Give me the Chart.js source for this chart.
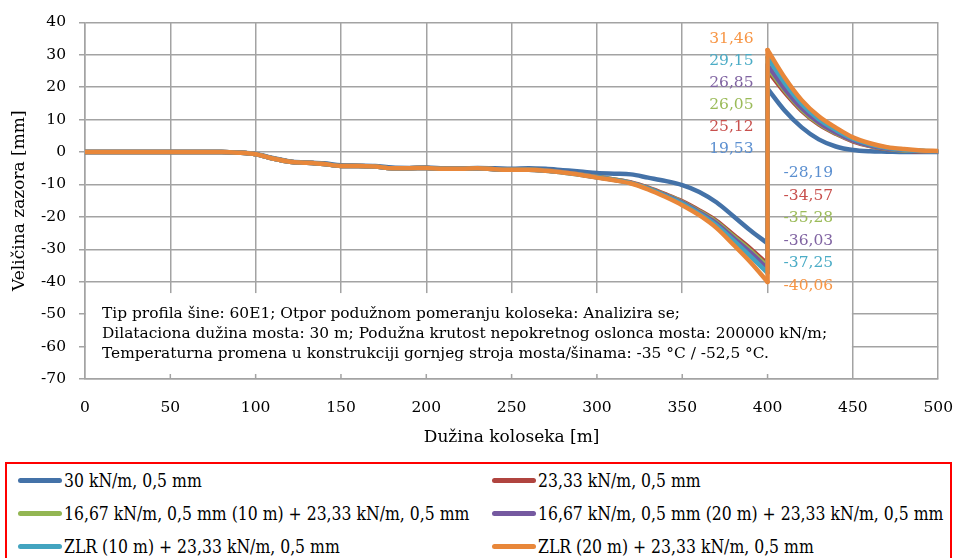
<!DOCTYPE html>
<html>
<head>
<meta charset="utf-8">
<title>Veličina zazora</title>
<script src="https://cdn.jsdelivr.net/npm/chart.js@4.4.1/dist/chart.umd.min.js"></script>
<style>
  body { margin: 0; background: #fff; width: 957px; height: 558px; overflow: hidden; position: relative; font-family: "DejaVu Serif", serif; }
  #wrap { position: absolute; left: 0; top: 0; width: 957px; height: 460px; }
  #legend { position: absolute; left: 5px; top: 462px; width: 943px; height: 110px; border: 2px solid #ff0000; }
  .item { position: absolute; height: 24px; display: flex; align-items: center; white-space: nowrap; color: #000; }
  .swatch { width: 44px; height: 5px; border-radius: 3px; margin-right: 2px; flex: none; }
  .label { display: inline-block; font-size: 18px; transform: scaleX(0.87); transform-origin: left center; }
</style>
</head>
<body>
<div id="wrap"><canvas id="gapChart" width="957" height="460"></canvas></div>
<div id="legend"></div>

<script>
// Data (x in m, y in mm) - the two points at 400 m make the vertical jump
const X_POS = [0, 10, 20, 30, 40, 50, 60, 70, 80, 90, 100, 110, 120, 130, 140, 150, 160, 170, 180, 190,
  200, 210, 220, 230, 240, 250, 260, 270, 280, 290, 300, 310, 320, 330, 340, 350, 360, 370, 380, 390, 400,
  400, 410, 420, 430, 440, 450, 460, 470, 480, 490, 500];
const JUMP_INDEX = 40; // X_POS[40] and X_POS[41] are both 400

const SERIES_NAMES = [
  "30 kN/m, 0,5 mm",
  "23,33 kN/m, 0,5 mm",
  "16,67 kN/m, 0,5 mm (10 m) + 23,33 kN/m, 0,5 mm",
  "16,67 kN/m, 0,5 mm (20 m) + 23,33 kN/m, 0,5 mm",
  "ZLR (10 m) + 23,33 kN/m, 0,5 mm",
  "ZLR (20 m) + 23,33 kN/m, 0,5 mm",
];

const GAP_30 = [0, 0, 0, 0, 0, 0, 0, 0, 0, -0.2, -0.6, -1.8, -2.9, -3.2, -3.5, -4.1, -4.2, -4.3, -4.8, -4.9,
  -4.8, -5.0, -5.1, -4.9, -5.0, -5.2, -5.0, -5.2, -5.6, -6.0, -6.5, -6.7, -6.9, -7.9, -8.9, -10.2, -12.3, -15.5, -19.8, -24.2, -28.19,
  19.53, 12.8, 7.6, 3.9, 1.7, 0.6, 0.2, 0.1, 0, 0, 0];

const GAP_2333 = [0, 0, 0, 0, 0, 0, 0, 0, 0, -0.2, -0.7, -2.0, -3.0, -3.3, -3.7, -4.3, -4.3, -4.5, -5.0, -5.0,
  -4.9, -5.2, -5.2, -5.0, -5.3, -5.5, -5.4, -5.7, -6.2, -6.9, -7.7, -8.5, -9.4, -11.0, -13.0, -15.2, -18.0, -21.2, -25.5, -29.8, -34.57,
  25.12, 18.4, 12.7, 8.5, 5.6, 3.3, 1.8, 0.9, 0.5, 0.2, 0.1];

const GAP_1667_10 = [0, 0, 0, 0, 0, 0, 0, 0, 0, -0.2, -0.7, -2.0, -3.0, -3.3, -3.7, -4.3, -4.3, -4.5, -5.0, -5.0,
  -4.9, -5.2, -5.2, -5.0, -5.3, -5.5, -5.4, -5.7, -6.2, -6.9, -7.7, -8.5, -9.5, -11.1, -13.2, -15.4, -18.3, -21.6, -26.0, -30.4, -35.28,
  26.05, 19.0, 13.1, 8.8, 5.8, 3.5, 1.9, 1.0, 0.5, 0.3, 0.1];

const GAP_1667_20 = [0, 0, 0, 0, 0, 0, 0, 0, 0, -0.2, -0.7, -2.0, -3.0, -3.3, -3.7, -4.3, -4.3, -4.5, -5.0, -5.0,
  -4.9, -5.2, -5.2, -5.0, -5.3, -5.5, -5.5, -5.7, -6.2, -6.9, -7.8, -8.6, -9.5, -11.2, -13.3, -15.6, -18.6, -22.0, -26.5, -31.0, -36.03,
  26.85, 19.5, 13.5, 9.1, 6.0, 3.6, 2.0, 1.1, 0.6, 0.3, 0.1];

const GAP_ZLR_10 = [0, 0, 0, 0, 0, 0, 0, 0, 0, -0.2, -0.7, -2.0, -3.0, -3.3, -3.7, -4.3, -4.3, -4.5, -5.0, -5.0,
  -4.9, -5.2, -5.2, -5.0, -5.3, -5.5, -5.5, -5.8, -6.3, -7.0, -7.8, -8.6, -9.6, -11.3, -13.5, -15.9, -19.0, -22.6, -27.3, -32.2, -37.25,
  29.15, 21.3, 14.8, 10.1, 6.8, 4.1, 2.4, 1.3, 0.7, 0.4, 0.2];

const GAP_ZLR_20 = [0, 0, 0, 0, 0, 0, 0, 0, 0, -0.2, -0.7, -2.0, -3.0, -3.3, -3.7, -4.3, -4.3, -4.5, -5.0, -5.0,
  -4.9, -5.2, -5.2, -5.0, -5.3, -5.5, -5.5, -5.8, -6.3, -7.0, -7.9, -8.7, -9.7, -11.5, -13.8, -16.4, -19.5, -23.4, -28.6, -34.0, -40.06,
  31.46, 23.0, 16.0, 11.0, 7.5, 4.5, 2.7, 1.5, 0.9, 0.5, 0.3];

const SERIES_VALUES = [GAP_30, GAP_2333, GAP_1667_10, GAP_1667_20, GAP_ZLR_10, GAP_ZLR_20];

// Values written next to the jump at 400 m
const MAX_LABELS = ["19,53", "25,12", "26,05", "26,85", "29,15", "31,46"];
const MIN_LABELS = ["-28,19", "-34,57", "-35,28", "-36,03", "-37,25", "-40,06"];

const NOTE_LINES = [
  "Tip profila šine: 60E1; Otpor podužnom pomeranju koloseka: Analizira se;",
  "Dilataciona dužina mosta: 30 m; Podužna krutost nepokretnog oslonca mosta: 200000 kN/m;",
  "Temperaturna promena u konstrukciji gornjeg stroja mosta/šinama: -35 °C / -52,5 °C.",
];

const LINE_COLORS = ["#4472a8", "#b0443f", "#93b653", "#7559a0", "#43a4c0", "#e8873a"];
const LABEL_COLORS = ["#5b8fd0", "#c8504d", "#9bbb59", "#8064a2", "#4bacc6", "#f79646"];
const GRID_COLOR = "#a3a3a3";
const FONT = "'DejaVu Serif', serif";
const NOTE_BOX_TOP = -43.5;   // mm, top edge of the white note box
const NOTE_BOX_RIGHT = 450;   // m

const notePlugin = {
  id: "notes",
  beforeDatasetsDraw(chart) {
    const { ctx, chartArea, scales } = chart;
    const top = scales.y.getPixelForValue(NOTE_BOX_TOP);
    const right = scales.x.getPixelForValue(NOTE_BOX_RIGHT);
    ctx.save();
    ctx.fillStyle = "#fff";
    ctx.fillRect(chartArea.left + 1, top, right - chartArea.left - 2, chartArea.bottom - top - 1);
    // short inside tick marks on the x axis under the box
    ctx.strokeStyle = GRID_COLOR;
    ctx.lineWidth = 1.5;
    for (let v = 50; v < NOTE_BOX_RIGHT; v += 50) {
      const px = scales.x.getPixelForValue(v);
      ctx.beginPath();
      ctx.moveTo(px, chartArea.bottom);
      ctx.lineTo(px, chartArea.bottom - 5);
      ctx.stroke();
    }
    ctx.restore();
  },
  afterDatasetsDraw(chart) {
    const { ctx, chartArea, scales } = chart;
    const top = scales.y.getPixelForValue(NOTE_BOX_TOP);
    ctx.save();
    ctx.font = "15.4px " + FONT;
    ctx.fillStyle = "#000";
    ctx.textAlign = "left";
    ctx.textBaseline = "middle";
    NOTE_LINES.forEach((line, i) => {
      ctx.fillText(line, chartArea.left + 17, top + 21 + i * 20);
    });

    // stacked value labels beside the jump
    const x400 = scales.x.getPixelForValue(400);
    ctx.font = "15.5px " + FONT;
    ctx.textAlign = "right";
    const maxTop = scales.y.getPixelForValue(31.46) - 11;
    for (let i = 0; i < 6; i++) {
      const s = 5 - i;
      ctx.fillStyle = LABEL_COLORS[s];
      ctx.fillText(MAX_LABELS[s], x400 - 14, maxTop + i * 22);
    }
    ctx.textAlign = "left";
    const minBottom = scales.y.getPixelForValue(-40.06) + 4;
    for (let i = 0; i < 6; i++) {
      ctx.fillStyle = LABEL_COLORS[i];
      ctx.fillText(MIN_LABELS[i], x400 + 16, minBottom - (5 - i) * 22.6);
    }
    ctx.restore();
  },
};

function buildLegend() {
  const legend = document.getElementById("legend");
  const rows = [4, 37, 70];
  const cols = [11, 485];
  SERIES_NAMES.forEach((name, i) => {
    const item = document.createElement("div");
    item.className = "item";
    item.style.left = cols[i % 2] + "px";
    item.style.top = rows[Math.floor(i / 2)] + "px";
    item.innerHTML = `<span class="swatch" style="background:${LINE_COLORS[i]}"></span><span class="label">${name}</span>`;
    legend.appendChild(item);
  });
}

// each series is drawn as: smooth part before the jump, the vertical jump, smooth part after it
function seriesParts(i) {
  const pts = X_POS.map((x, j) => ({ x: x, y: SERIES_VALUES[i][j] }));
  const base = {
    label: SERIES_NAMES[i],
    borderColor: LINE_COLORS[i],
    backgroundColor: LINE_COLORS[i],
    borderWidth: 4.5,
    borderCapStyle: "round",
    borderJoinStyle: "round",
    pointRadius: 0,
    fill: false,
    order: 5 - i, // last series on top, like the original
  };
  return [
    { ...base, data: pts.slice(0, JUMP_INDEX + 1), cubicInterpolationMode: "monotone" },
    { ...base, data: pts.slice(JUMP_INDEX, JUMP_INDEX + 2), tension: 0 },
    { ...base, data: pts.slice(JUMP_INDEX + 1), cubicInterpolationMode: "monotone" },
  ];
}

function initChart() {
  const datasets = SERIES_NAMES.flatMap((name, i) => seriesParts(i));

  new Chart(document.getElementById("gapChart"), {
    type: "line",
    data: { datasets: datasets },
    plugins: [notePlugin],
    options: {
      responsive: false,
      animation: false,
      devicePixelRatio: 1,
      layout: { padding: { left: 0, right: 2, top: 19, bottom: 0 } },
      plugins: { legend: { display: false }, tooltip: { enabled: false } },
      scales: {
        x: {
          type: "linear",
          min: 0,
          max: 500,
          afterFit: (s) => { s.height = 81; },
          ticks: { stepSize: 50, color: "#000", padding: 4, font: { family: FONT, size: 15.5 } },
          grid: { color: GRID_COLOR, lineWidth: 1.5, drawTicks: true, tickLength: 16, tickColor: "rgba(0,0,0,0)" },
          border: { color: GRID_COLOR, width: 1.5 },
          title: {
            display: true,
            text: "Dužina koloseka [m]",
            color: "#000",
            font: { family: FONT, size: 17 },
            padding: { top: 0, bottom: 12 },
          },
        },
        y: {
          min: -70,
          max: 40,
          afterFit: (s) => { s.width = 85; },
          ticks: { stepSize: 10, color: "#000", padding: 13, font: { family: FONT, size: 15.5 } },
          grid: { color: GRID_COLOR, lineWidth: 1.5, drawTicks: true, tickLength: 6 },
          border: { color: GRID_COLOR, width: 1.5 },
          title: {
            display: true,
            text: "Veličina zazora [mm]",
            color: "#000",
            font: { family: FONT, size: 17 },
            padding: { top: 9, bottom: 0 },
          },
        },
      },
    },
  });
}

buildLegend();
initChart();
</script>
</body>
</html>
